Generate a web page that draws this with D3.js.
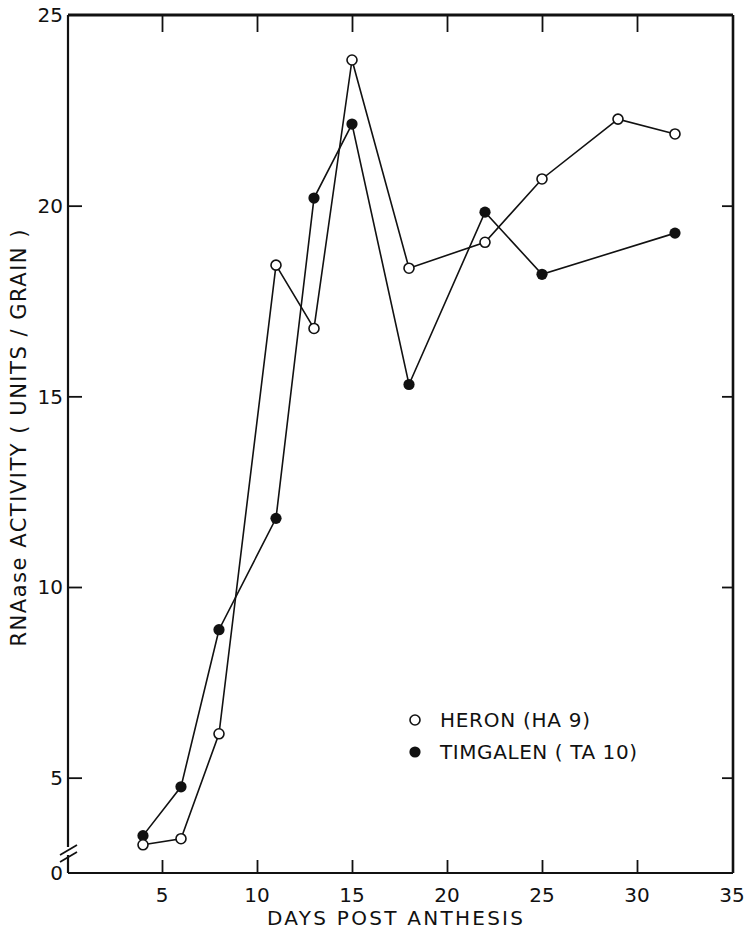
<!DOCTYPE html>
<html>
<head>
<meta charset="utf-8">
<script src="https://cdn.jsdelivr.net/npm/d3@7"></script>
<style>
  body { margin: 0; background: #fff; }
  svg text { font-family: "DejaVu Sans", sans-serif; fill: #111; }
</style>
</head>
<body>
<svg id="chart" width="746" height="934"></svg>
<script>
// days post anthesis
let heronDays = [4, 6, 8, 11, 13, 15, 18, 22, 25, 29, 32];
let heronValues = [3.24, 3.4, 6.15, 18.44, 16.78, 23.82, 18.36, 19.04, 20.7, 22.27, 21.88];
let timgalenDays = [4, 6, 8, 11, 13, 15, 18, 22, 25, 32];
let timgalenValues = [3.48, 4.76, 8.88, 11.8, 20.2, 22.14, 15.31, 19.83, 18.2, 19.28];

let xTicks = [5, 10, 15, 20, 25, 30, 35];
let yTicks = [5, 10, 15, 20, 25];
let innerX = [5, 10, 15, 20, 25, 30];
let innerY = [5, 10, 15, 20];

let svg = d3.select("#chart");
let plotLeft = 68, plotRight = 733, plotTop = 15, plotBottom = 873;

let xScale = d3.scaleLinear().domain([0, 35]).range([plotLeft - 1, plotRight - 1]);
// bottom of the axis is a broken zero, the scale starts at 2.5
let yScale = d3.scaleLinear().domain([2.5, 25]).range([plotBottom, plotTop]);

// ticks
svg.append("g")
    .attr("transform", "translate(0," + plotBottom + ")")
    .call(d3.axisBottom(xScale).tickValues(innerX).tickSize(-13).tickSizeOuter(0).tickFormat(""))
    .call(g => g.select(".domain").remove());
svg.append("g")
    .attr("transform", "translate(0," + plotTop + ")")
    .call(d3.axisTop(xScale).tickValues(innerX).tickSize(-17).tickSizeOuter(0).tickFormat(""))
    .call(g => g.select(".domain").remove());
svg.append("g")
    .attr("transform", "translate(" + plotLeft + ",0)")
    .call(d3.axisLeft(yScale).tickValues(innerY).tickSize(-14).tickSizeOuter(0).tickFormat(""))
    .call(g => g.select(".domain").remove());
svg.append("g")
    .attr("transform", "translate(" + plotRight + ",0)")
    .call(d3.axisRight(yScale).tickValues(innerY).tickSize(-11).tickSizeOuter(0).tickFormat(""))
    .call(g => g.select(".domain").remove());
svg.selectAll(".tick line").attr("stroke", "#111").attr("stroke-width", 1.8);

// tick labels
svg.append("g").selectAll("text")
    .data(xTicks).enter().append("text")
    .attr("x", d => xScale(d))
    .attr("y", plotBottom + 15)
    .attr("dy", "0.71em")
    .attr("text-anchor", "middle")
    .style("font-size", "20px")
    .text(d => d);
svg.append("g").selectAll("text")
    .data(yTicks).enter().append("text")
    .attr("x", plotLeft - 5)
    .attr("y", d => yScale(d))
    .attr("dy", "0.36em")
    .attr("text-anchor", "end")
    .style("font-size", "20px")
    .text(d => d);
svg.append("text")
    .attr("x", plotLeft - 5)
    .attr("y", plotBottom)
    .attr("dy", "0.36em")
    .attr("text-anchor", "end")
    .style("font-size", "20px")
    .text("0");

// frame with axis break
let frame = svg.append("g").attr("stroke", "#111").attr("fill", "none");
frame.append("line").attr("x1", plotLeft).attr("x2", plotRight).attr("y1", plotTop).attr("y2", plotTop).attr("stroke-width", 3);
frame.append("line").attr("x1", plotRight).attr("x2", plotRight).attr("y1", plotTop).attr("y2", plotBottom).attr("stroke-width", 2.6);
frame.append("line").attr("x1", plotLeft).attr("x2", plotRight).attr("y1", plotBottom).attr("y2", plotBottom).attr("stroke-width", 2.2);
frame.append("line").attr("x1", plotLeft).attr("x2", plotLeft).attr("y1", plotTop).attr("y2", plotBottom - 26).attr("stroke-width", 2.2);
frame.append("line").attr("x1", plotLeft).attr("x2", plotLeft).attr("y1", plotBottom - 18).attr("y2", plotBottom).attr("stroke-width", 2.2);
frame.append("line").attr("x1", plotLeft - 8).attr("x2", plotLeft + 9).attr("y1", plotBottom - 18).attr("y2", plotBottom - 28).attr("stroke-width", 1.8);
frame.append("line").attr("x1", plotLeft - 8).attr("x2", plotLeft + 9).attr("y1", plotBottom - 11).attr("y2", plotBottom - 21).attr("stroke-width", 1.8);

// series
let line = d3.line().x(d => xScale(d[0])).y(d => yScale(d[1]));
let heron = heronDays.map((d, i) => [d, heronValues[i]]);
let timgalen = timgalenDays.map((d, i) => [d, timgalenValues[i]]);

svg.append("path").datum(heron).attr("d", line)
    .attr("fill", "none").attr("stroke", "#111").attr("stroke-width", 1.6);
svg.append("path").datum(timgalen).attr("d", line)
    .attr("fill", "none").attr("stroke", "#111").attr("stroke-width", 1.6);

svg.append("g").selectAll("circle")
    .data(timgalen).enter().append("circle")
    .attr("cx", d => xScale(d[0])).attr("cy", d => yScale(d[1]))
    .attr("r", 5.6).attr("fill", "#111");
svg.append("g").selectAll("circle")
    .data(heron).enter().append("circle")
    .attr("cx", d => xScale(d[0])).attr("cy", d => yScale(d[1]))
    .attr("r", 5).attr("fill", "#fff").attr("stroke", "#111").attr("stroke-width", 1.6);

// legend
let legend = svg.append("g");
legend.append("circle").attr("cx", 415).attr("cy", 720).attr("r", 5)
    .attr("fill", "#fff").attr("stroke", "#111").attr("stroke-width", 1.6);
legend.append("text").attr("x", 440).attr("y", 720).attr("dy", "0.36em")
    .style("font-size", "20px").attr("textLength", 150).text("HERON (HA 9)");
legend.append("circle").attr("cx", 415).attr("cy", 752).attr("r", 5.6).attr("fill", "#111");
legend.append("text").attr("x", 440).attr("y", 752).attr("dy", "0.36em")
    .style("font-size", "20px").attr("textLength", 197).text("TIMGALEN ( TA 10)");

// axis titles
svg.append("text")
    .attr("x", 395).attr("y", 918).attr("dy", "0.36em")
    .attr("text-anchor", "middle")
    .style("font-size", "20px")
    .attr("textLength", 256)
    .text("DAYS POST ANTHESIS");
svg.append("text")
    .attr("transform", "translate(18,438) rotate(-90)")
    .attr("dy", "0.36em")
    .attr("text-anchor", "middle")
    .style("font-size", "21px")
    .attr("textLength", 417)
    .text("RNAase ACTIVITY ( UNITS / GRAIN )");
</script>
</body>
</html>
